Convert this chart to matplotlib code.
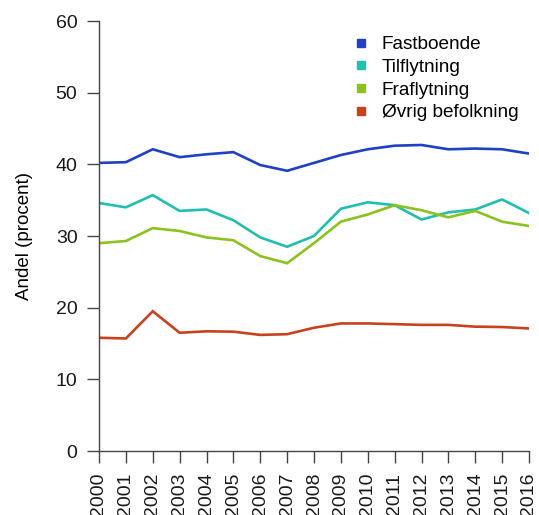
import matplotlib
matplotlib.use("Agg")
import matplotlib.pyplot as plt
from matplotlib.lines import Line2D

plt.rcParams['font.family'] = ['Liberation Sans', 'DejaVu Sans']

years = list(range(2000, 2017))
fastboende = [40.2, 40.3, 42.1, 41.0, 41.4, 41.7, 39.9, 39.1, 40.2, 41.3, 42.1,
              42.6, 42.7, 42.1, 42.2, 42.1, 41.5]
tilflytning = [34.6, 34.0, 35.7, 33.5, 33.7, 32.2, 29.8, 28.5, 30.0, 33.8, 34.7,
               34.3, 32.3, 33.3, 33.7, 35.1, 33.2]
fraflytning = [29.0, 29.3, 31.1, 30.7, 29.8, 29.4, 27.2, 26.2, 29.0, 32.0, 33.0,
               34.3, 33.6, 32.6, 33.5, 32.0, 31.4]
ovrig = [15.8, 15.7, 19.5, 16.5, 16.7, 16.65, 16.2, 16.3, 17.2, 17.8, 17.8,
         17.7, 17.6, 17.6, 17.35, 17.3, 17.1]

series = [("Fastboende", fastboende, "#1f41c3"),
          ("Tilflytning", tilflytning, "#21bfae"),
          ("Fraflytning", fraflytning, "#8bc220"),
          ("Øvrig befolkning", ovrig, "#c8421e")]

fig = plt.figure(figsize=(5.39, 5.15), dpi=100)
ax = fig.add_axes([99 / 539, 1 - 451 / 515, 430 / 539, 430 / 515])

for name, vals, col in series:
    ax.plot(years, vals, color=col, lw=1.9, solid_joinstyle='miter')

ax.set_xlim(2000, 2016)
ax.set_ylim(0, 60)
ax.set_xticks(years)
ax.set_xticklabels([str(y) for y in years], rotation=90)
ax.set_yticks(range(0, 61, 10))

for s in ['top', 'right']:
    ax.spines[s].set_visible(False)
for s in ['left', 'bottom']:
    ax.spines[s].set_color('#444444')
    ax.spines[s].set_linewidth(1.0)
ax.tick_params(axis='both', direction='out', length=8.5, width=1.0,
               color='#444444', labelsize=14, pad=7, labelcolor='#1a1a1a')

ax.set_ylabel("Andel (procent)", fontsize=13.5, labelpad=16)

handles = [Line2D([], [], ls='none', marker='s', markersize=6, color=c)
           for _, _, c in series]
ax.legend(handles, [n for n, _, _ in series], loc='upper left',
          bbox_to_anchor=(353 / 539, 1 - 36 / 515), bbox_transform=fig.transFigure,
          frameon=False, fontsize=13.7, handlelength=0.8, handletextpad=0.7,
          labelspacing=0.28, borderpad=0, borderaxespad=0)

fig.savefig("out.png", dpi=100)
